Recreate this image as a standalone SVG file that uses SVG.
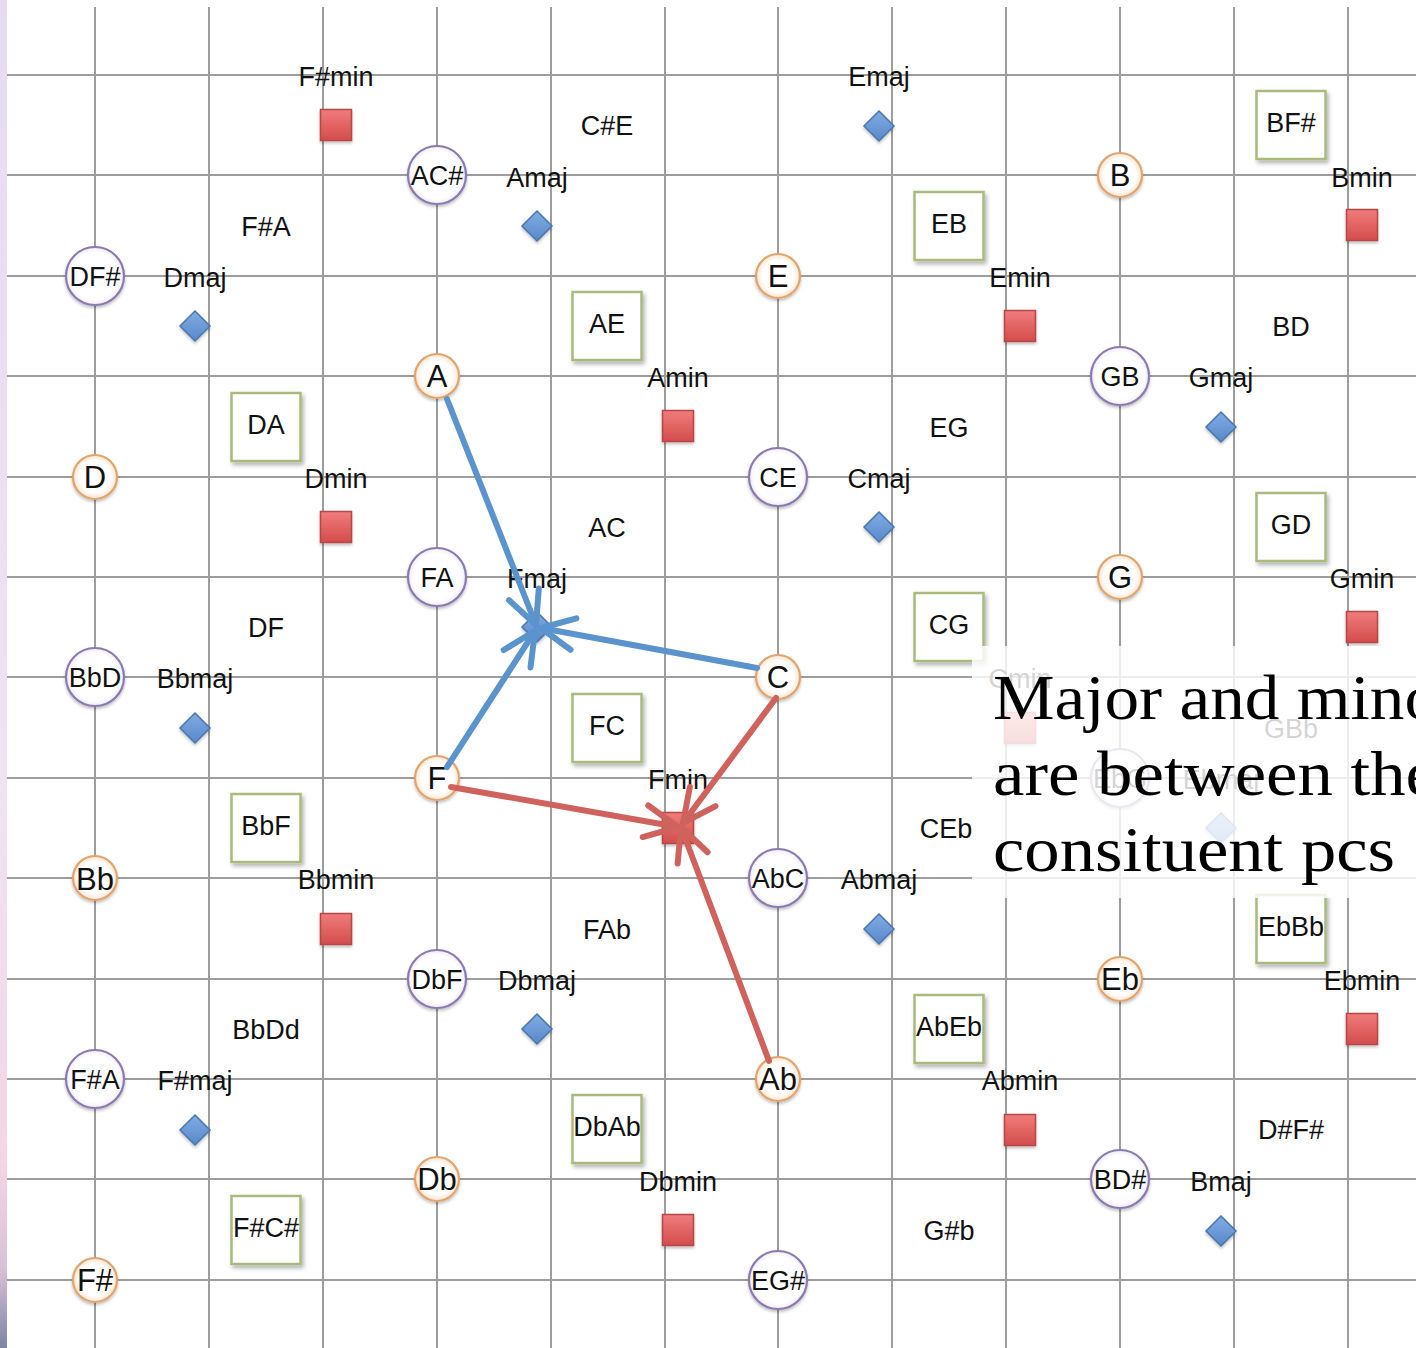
<svg xmlns="http://www.w3.org/2000/svg" width="1416" height="1348" viewBox="0 0 1416 1348">
<defs>
<linearGradient id="strip" x1="0" y1="0" x2="0" y2="1">
<stop offset="0" stop-color="#e6dcf2"/><stop offset="0.6" stop-color="#efe2f1"/><stop offset="0.86" stop-color="#f3d6e3"/><stop offset="0.94" stop-color="#d9c2d6"/><stop offset="1" stop-color="#7c84a4"/>
</linearGradient>
<radialGradient id="gOr" cx="0.5" cy="0.5" r="0.5"><stop offset="0.7" stop-color="#ffffff"/><stop offset="1" stop-color="#fde6d2"/></radialGradient>
<radialGradient id="gPu" cx="0.5" cy="0.5" r="0.5"><stop offset="0.8" stop-color="#ffffff"/><stop offset="1" stop-color="#f0ecf6"/></radialGradient>
<linearGradient id="gRed" x1="0" y1="0" x2="0" y2="1"><stop offset="0" stop-color="#f07c7c"/><stop offset="1" stop-color="#d44c4c"/></linearGradient>
<linearGradient id="gBlue" x1="0" y1="0" x2="0" y2="1"><stop offset="0" stop-color="#80ade4"/><stop offset="1" stop-color="#5a88c8"/></linearGradient>
<filter id="sh" x="-30%" y="-30%" width="160%" height="160%"><feDropShadow dx="2" dy="3" stdDeviation="2" flood-color="#000" flood-opacity="0.3"/></filter>
<filter id="shc" x="-30%" y="-30%" width="160%" height="160%"><feDropShadow dx="0" dy="2" stdDeviation="1.5" flood-color="#000" flood-opacity="0.25"/></filter>
<marker id="ahB" markerUnits="userSpaceOnUse" markerWidth="60" markerHeight="60" viewBox="-45 -30 60 60" refX="0" refY="0" orient="auto" overflow="visible">
<path d="M-33,-16 L0,0 L-33,16" fill="none" stroke="#5b93cd" stroke-width="6" stroke-linecap="round" stroke-linejoin="round"/>
</marker>
<marker id="ahR" markerUnits="userSpaceOnUse" markerWidth="60" markerHeight="60" viewBox="-45 -30 60 60" refX="0" refY="0" orient="auto" overflow="visible">
<path d="M-33,-16 L0,0 L-33,16" fill="none" stroke="#d0625e" stroke-width="6" stroke-linecap="round" stroke-linejoin="round"/>
</marker>
<style>
.grid line{stroke:#9d9d9d;stroke-width:2}
text{font-family:"Liberation Sans",Arial,sans-serif;fill:#111;text-anchor:middle}
.pc circle{fill:url(#gOr);stroke:#e3a46c;stroke-width:2.2;filter:url(#shc)}
.pc text{font-size:31px}
.m3 circle{fill:url(#gPu);stroke:#8a7ab0;stroke-width:2.2;filter:url(#shc)}
.m3 text{font-size:27px}
.p5 rect{fill:#fff;stroke:#a9ba7c;stroke-width:2.5;filter:url(#sh)}
.p5 text{font-size:27px}
.mi3 text{font-size:27px}
.maj path{fill:url(#gBlue);stroke:#4a76ac;stroke-width:1.5;filter:url(#shc)}
.maj text{font-size:27px}
.min rect{fill:url(#gRed);stroke:#b54646;stroke-width:1.5;filter:url(#shc)}
.min text{font-size:27px}
.arrows path{fill:none;stroke-width:6;stroke-linecap:round}
.blue{stroke:#5b93cd;marker-end:url(#ahB)}
.red{stroke:#d0625e;marker-end:url(#ahR)}
.note text{font-family:"Liberation Serif","Times New Roman",serif;font-size:64px;fill:#000;text-anchor:start}
</style>
</defs>
<rect width="1416" height="1348" fill="#fff"/>
<rect x="0" y="0" width="7" height="1348" fill="url(#strip)"/>
<g class="grid">
<line x1="95" y1="7" x2="95" y2="1348"/><line x1="209" y1="7" x2="209" y2="1348"/><line x1="323" y1="7" x2="323" y2="1348"/><line x1="437" y1="7" x2="437" y2="1348"/><line x1="551" y1="7" x2="551" y2="1348"/><line x1="665" y1="7" x2="665" y2="1348"/><line x1="778" y1="7" x2="778" y2="1348"/><line x1="892" y1="7" x2="892" y2="1348"/><line x1="1006" y1="7" x2="1006" y2="1348"/><line x1="1120" y1="7" x2="1120" y2="1348"/><line x1="1234" y1="7" x2="1234" y2="1348"/><line x1="1348" y1="7" x2="1348" y2="1348"/>
<line x1="7" y1="75" x2="1416" y2="75"/><line x1="7" y1="175" x2="1416" y2="175"/><line x1="7" y1="276" x2="1416" y2="276"/><line x1="7" y1="376" x2="1416" y2="376"/><line x1="7" y1="477" x2="1416" y2="477"/><line x1="7" y1="577" x2="1416" y2="577"/><line x1="7" y1="677" x2="1416" y2="677"/><line x1="7" y1="778" x2="1416" y2="778"/><line x1="7" y1="878" x2="1416" y2="878"/><line x1="7" y1="979" x2="1416" y2="979"/><line x1="7" y1="1079" x2="1416" y2="1079"/><line x1="7" y1="1179" x2="1416" y2="1179"/><line x1="7" y1="1280" x2="1416" y2="1280"/>
</g>
<!-- minor third dyads (plain text) -->
<g class="mi3">
<g id="mi3-CsE"><text x="607" y="135">C#E</text></g>
<g id="mi3-FsA"><text x="266" y="236">F#A</text></g>
<g id="mi3-BD"><text x="1291" y="336">BD</text></g>
<g id="mi3-EG"><text x="949" y="437">EG</text></g>
<g id="mi3-AC"><text x="607" y="537">AC</text></g>
<g id="mi3-DF"><text x="266" y="637">DF</text></g>
<g id="mi3-GBb"><text x="1291" y="738">GBb</text></g>
<g id="mi3-CEb"><text x="946" y="838">CEb</text></g>
<g id="mi3-FAb"><text x="607" y="939">FAb</text></g>
<g id="mi3-BbDd"><text x="266" y="1039">BbDd</text></g>
<g id="mi3-DsFs"><text x="1291" y="1139">D#F#</text></g>
<g id="mi3-Gsb"><text x="949" y="1240">G#b</text></g>
</g>
<!-- fifth dyads (green boxes) -->
<g class="p5">
<g id="p5-BFs"><rect x="1256.5" y="91" width="69" height="68"/><text x="1291" y="132">BF#</text></g>
<g id="p5-EB"><rect x="914.5" y="192" width="69" height="68"/><text x="949" y="233">EB</text></g>
<g id="p5-AE"><rect x="572.5" y="292" width="69" height="68"/><text x="607" y="333">AE</text></g>
<g id="p5-DA"><rect x="231.5" y="393" width="69" height="68"/><text x="266" y="434">DA</text></g>
<g id="p5-GD"><rect x="1256.5" y="493" width="69" height="68"/><text x="1291" y="534">GD</text></g>
<g id="p5-CG"><rect x="914.5" y="593" width="69" height="68"/><text x="949" y="634">CG</text></g>
<g id="p5-FC"><rect x="572.5" y="694" width="69" height="68"/><text x="607" y="735">FC</text></g>
<g id="p5-BbF"><rect x="231.5" y="794" width="69" height="68"/><text x="266" y="835">BbF</text></g>
<g id="p5-EbBb"><rect x="1256.5" y="895" width="69" height="68"/><text x="1291" y="936">EbBb</text></g>
<g id="p5-AbEb"><rect x="914.5" y="995" width="69" height="68"/><text x="949" y="1036">AbEb</text></g>
<g id="p5-DbAb"><rect x="572.5" y="1095" width="69" height="68"/><text x="607" y="1136">DbAb</text></g>
<g id="p5-FsCs"><rect x="231.5" y="1196" width="69" height="68"/><text x="266" y="1237">F#C#</text></g>
</g>
<!-- major third dyads (purple circles) -->
<g class="m3">
<g id="m3-ACs"><circle cx="437" cy="175" r="29"/><text x="437" y="185">AC#</text></g>
<g id="m3-DFs"><circle cx="95" cy="276" r="29"/><text x="95" y="286">DF#</text></g>
<g id="m3-GB"><circle cx="1120" cy="376" r="29"/><text x="1120" y="386">GB</text></g>
<g id="m3-CE"><circle cx="778" cy="477" r="29"/><text x="778" y="487">CE</text></g>
<g id="m3-FA"><circle cx="437" cy="577" r="29"/><text x="437" y="587">FA</text></g>
<g id="m3-BbD"><circle cx="95" cy="677" r="29"/><text x="95" y="687">BbD</text></g>
<g id="m3-EbG"><circle cx="1120" cy="778" r="29"/><text x="1120" y="788">EbG</text></g>
<g id="m3-AbC"><circle cx="778" cy="878" r="29"/><text x="778" y="888">AbC</text></g>
<g id="m3-DbF"><circle cx="437" cy="979" r="29"/><text x="437" y="989">DbF</text></g>
<g id="m3-FsA"><circle cx="95" cy="1079" r="29"/><text x="95" y="1089">F#A</text></g>
<g id="m3-BDs"><circle cx="1120" cy="1179" r="29"/><text x="1120" y="1189">BD#</text></g>
<g id="m3-EGs"><circle cx="778" cy="1280" r="29"/><text x="778" y="1290">EG#</text></g>
</g>
<!-- single pitch classes (orange circles) -->
<g class="pc">
<g id="pc-A"><circle cx="437" cy="376" r="22"/><text x="437" y="387">A</text></g>
<g id="pc-E"><circle cx="778" cy="276" r="22"/><text x="778" y="287">E</text></g>
<g id="pc-B"><circle cx="1120" cy="175" r="22"/><text x="1120" y="186">B</text></g>
<g id="pc-D"><circle cx="95" cy="477" r="22"/><text x="95" y="488">D</text></g>
<g id="pc-G"><circle cx="1120" cy="577" r="22"/><text x="1120" y="588">G</text></g>
<g id="pc-C"><circle cx="778" cy="677" r="22"/><text x="778" y="688">C</text></g>
<g id="pc-F"><circle cx="437" cy="778" r="22"/><text x="437" y="789">F</text></g>
<g id="pc-Bb"><circle cx="95" cy="878" r="22"/><text x="95" y="890">Bb</text></g>
<g id="pc-Eb"><circle cx="1120" cy="979" r="22"/><text x="1120" y="990">Eb</text></g>
<g id="pc-Ab"><circle cx="778" cy="1079" r="22"/><text x="778" y="1090">Ab</text></g>
<g id="pc-Db"><circle cx="437" cy="1179" r="22"/><text x="437" y="1190">Db</text></g>
<g id="pc-Fs"><circle cx="95" cy="1280" r="22"/><text x="95" y="1291">F#</text></g>
</g>
<!-- major triads (blue diamonds) -->
<g class="maj">
<g id="maj-E"><text x="879" y="86">Emaj</text><path d="M879,111 L894,126 L879,141 L864,126 Z"/></g>
<g id="maj-A"><text x="537" y="187">Amaj</text><path d="M537,211 L552,226 L537,241 L522,226 Z"/></g>
<g id="maj-D"><text x="195" y="287">Dmaj</text><path d="M195,311 L210,326 L195,341 L180,326 Z"/></g>
<g id="maj-G"><text x="1221" y="387">Gmaj</text><path d="M1221,412 L1236,427 L1221,442 L1206,427 Z"/></g>
<g id="maj-C"><text x="879" y="488">Cmaj</text><path d="M879,512 L894,527 L879,542 L864,527 Z"/></g>
<g id="maj-F"><text x="537" y="588">Fmaj</text><path d="M537,612 L552,627 L537,642 L522,627 Z"/></g>
<g id="maj-Bb"><text x="195" y="688">Bbmaj</text><path d="M195,713 L210,728 L195,743 L180,728 Z"/></g>
<g id="maj-Eb"><text x="1221" y="789">Ebmaj</text><path d="M1221,813 L1236,828 L1221,843 L1206,828 Z"/></g>
<g id="maj-Ab"><text x="879" y="889">Abmaj</text><path d="M879,914 L894,929 L879,944 L864,929 Z"/></g>
<g id="maj-Db"><text x="537" y="990">Dbmaj</text><path d="M537,1014 L552,1029 L537,1044 L522,1029 Z"/></g>
<g id="maj-Fs"><text x="195" y="1090">F#maj</text><path d="M195,1115 L210,1130 L195,1145 L180,1130 Z"/></g>
<g id="maj-B"><text x="1221" y="1191">Bmaj</text><path d="M1221,1216 L1236,1231 L1221,1246 L1206,1231 Z"/></g>
</g>
<!-- minor triads (red squares) -->
<g class="min">
<g id="min-Fs"><text x="336" y="86">F#min</text><rect x="320.5" y="109.5" width="31" height="31"/></g>
<g id="min-B"><text x="1362" y="187">Bmin</text><rect x="1346.5" y="209.5" width="31" height="31"/></g>
<g id="min-E"><text x="1020" y="287">Emin</text><rect x="1004.5" y="310.5" width="31" height="31"/></g>
<g id="min-A"><text x="678" y="387">Amin</text><rect x="662.5" y="410.5" width="31" height="31"/></g>
<g id="min-D"><text x="336" y="488">Dmin</text><rect x="320.5" y="511.5" width="31" height="31"/></g>
<g id="min-G"><text x="1362" y="588">Gmin</text><rect x="1346.5" y="611.5" width="31" height="31"/></g>
<g id="min-C"><text x="1020" y="688">Cmin</text><rect x="1004.5" y="712.5" width="31" height="31"/></g>
<g id="min-F"><text x="678" y="789">Fmin</text><rect x="662.5" y="812.5" width="31" height="31"/></g>
<g id="min-Bb"><text x="336" y="889">Bbmin</text><rect x="320.5" y="913.5" width="31" height="31"/></g>
<g id="min-Eb"><text x="1362" y="990">Ebmin</text><rect x="1346.5" y="1013.5" width="31" height="31"/></g>
<g id="min-Ab"><text x="1020" y="1090">Abmin</text><rect x="1004.5" y="1114.5" width="31" height="31"/></g>
<g id="min-Db"><text x="678" y="1191">Dbmin</text><rect x="662.5" y="1214.5" width="31" height="31"/></g>
</g>
<!-- connectors -->
<g class="arrows">
<path class="blue" d="M447,399 L536,625"/>
<path class="blue" d="M757,668 L541,628"/>
<path class="blue" d="M447,767 L535,631"/>
<path class="red" d="M451,787 L678,827"/>
<path class="red" d="M776,698 L683,823"/>
<path class="red" d="M769,1061 L681,827"/>
</g>
<!-- note overlay -->
<g class="note">
<rect x="972" y="646" width="444" height="252" fill="#fff" fill-opacity="0.82"/>
<text x="993" y="719" textLength="446" lengthAdjust="spacingAndGlyphs">Major and mino</text>
<text x="993" y="795" textLength="444" lengthAdjust="spacingAndGlyphs">are between the</text>
<text x="993" y="871" textLength="402" lengthAdjust="spacingAndGlyphs">consituent pcs</text>
</g>
</svg>
